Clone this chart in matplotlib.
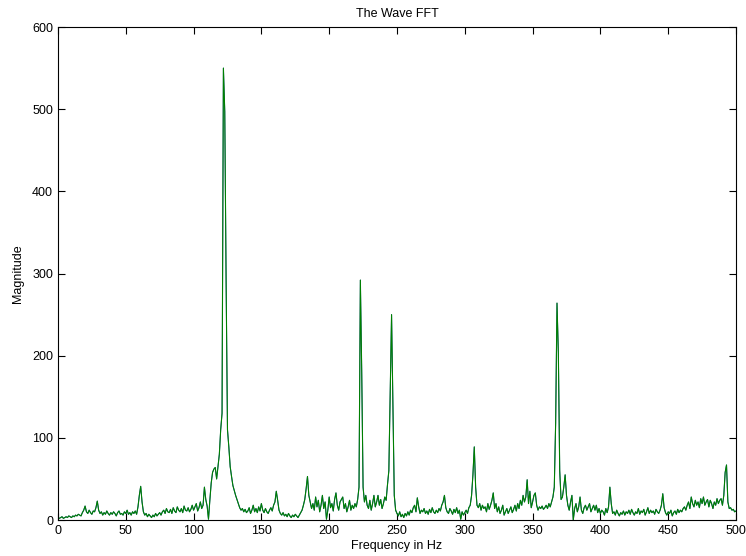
import numpy as np
import matplotlib
matplotlib.use('Agg')
import matplotlib.pyplot as plt

# magnitude, one value per Hz (0..500 Hz)
magnitude = [
    3, 2, 3, 4, 2, 3, 4, 3, 5, 4,
    3, 5, 4, 6, 5, 7, 6, 5, 9, 12,
    17, 10, 8, 12, 9, 7, 11, 10, 15, 23,
    12, 8, 10, 6, 9, 7, 11, 8, 6, 9,
    7, 10, 8, 5, 9, 11, 7, 8, 6, 10,
    8, 12, 7, 9, 6, 10, 8, 11, 7, 16,
    30, 41, 22, 10, 6, 8, 4, 7, 5, 3,
    6, 4, 8, 5, 7, 9, 6, 10, 12, 8,
    14, 10, 9, 13, 8, 15, 11, 9, 16, 12,
    10, 14, 9, 17, 12, 11, 15, 10, 13, 18,
    12, 16, 20, 11, 15, 22, 14, 18, 40, 25,
    17, 1, 24, 45, 58, 62, 64, 50, 65, 80,
    110, 130, 550, 497, 290, 110, 89, 65, 53, 42,
    36, 30, 25, 20, 15, 12, 14, 10, 13, 9,
    11, 15, 8, 12, 18, 10, 14, 9, 16, 11,
    20, 12, 9, 14, 10, 8, 12, 15, 11, 18,
    22, 35, 24, 12, 8, 6, 9, 5, 7, 4,
    8, 5, 3, 6, 4, 7, 5, 3, 6, 9,
    12, 18, 25, 38, 53, 30, 22, 14, 20, 12,
    28, 16, 24, 10, 18, 30, 14, 22, 1, 12,
    28, 15, 20, 11, 25, 33, 18, 12, 22, 25,
    28, 14, 20, 10, 16, 24, 12, 18, 14, 20,
    16, 25, 40, 292, 180, 40, 22, 30, 18, 14,
    24, 12, 20, 30, 16, 22, 30, 18, 25, 14,
    20, 28, 24, 43, 60, 155, 250, 140, 30, 12,
    8, 5, 10, 4, 7, 3, 8, 5, 10, 6,
    12, 9, 15, 18, 10, 27, 16, 8, 12, 10,
    14, 8, 11, 7, 13, 9, 15, 10, 8, 12,
    9, 14, 11, 18, 22, 30, 15, 10, 8, 14,
    11, 7, 13, 9, 15, 8, 12, 1, 10, 6,
    9, 12, 8, 15, 18, 30, 55, 89, 40, 18,
    15, 20, 12, 18, 14, 16, 10, 20, 13, 18,
    24, 33, 14, 20, 10, 16, 8, 12, 18, 6,
    10, 14, 8, 12, 16, 9, 13, 18, 11, 20,
    14, 24, 18, 30, 22, 28, 49, 20, 35, 15,
    22, 30, 33, 18, 12, 16, 14, 17, 13, 15,
    18, 14, 20, 16, 22, 28, 40, 118, 264, 203,
    60, 25, 28, 40, 55, 30, 18, 12, 22, 30,
    0, 14, 20, 10, 16, 28, 12, 8, 15, 18,
    12, 16, 20, 10, 14, 18, 12, 18, 9, 14,
    8, 12, 10, 6, 14, 9, 16, 40, 20, 8,
    10, 6, 12, 8, 5, 9, 7, 11, 6, 10,
    8, 12, 7, 13, 9, 6, 10, 8, 14, 7,
    11, 9, 13, 6, 10, 15, 8, 12, 9, 11,
    7, 13, 10, 8, 12, 18, 32, 15, 9, 6,
    10, 8, 12, 5, 9, 11, 7, 13, 9, 12,
    10, 14, 16, 12, 18, 22, 14, 28, 20, 16,
    24, 18, 22, 15, 26, 20, 28, 18, 22, 25,
    16, 24, 20, 14, 22, 18, 26, 20, 24, 26,
    18, 30, 58, 67, 22, 14, 15, 12, 13, 10,
    11,
]
frequency = np.arange(len(magnitude))

x_ticks = [0, 50, 100, 150, 200, 250, 300, 350, 400, 450, 500]
y_ticks = [0, 100, 200, 300, 400, 500, 600]

plt.rcParams['font.family'] = ['Liberation Sans', 'DejaVu Sans']
plt.rcParams['font.size'] = 9

fig = plt.figure(figsize=(7.46, 5.56), dpi=100)
ax = fig.add_axes([0.0777, 0.0647, 0.9089, 0.8867])

# blue trace sits underneath, green drawn on top (as in the original)
ax.plot(frequency, magnitude, color='#1f3fbf', linewidth=0.7)
ax.plot(frequency, magnitude, color='#008000', linewidth=0.8)

ax.set_xlim(0, 500)
ax.set_ylim(0, 600)
ax.set_xticks(x_ticks)
ax.set_yticks(y_ticks)
ax.tick_params(direction='in', top=True, right=True, length=5, width=0.8, labelsize=9)
for s in ax.spines.values():
    s.set_linewidth(0.8)

ax.set_title('The Wave FFT', fontsize=9, pad=7)
ax.set_xlabel('Frequency in Hz', fontsize=9, labelpad=2)
ax.set_ylabel('Magnitude', fontsize=9, labelpad=6)

fig.savefig('out.png', dpi=100)
